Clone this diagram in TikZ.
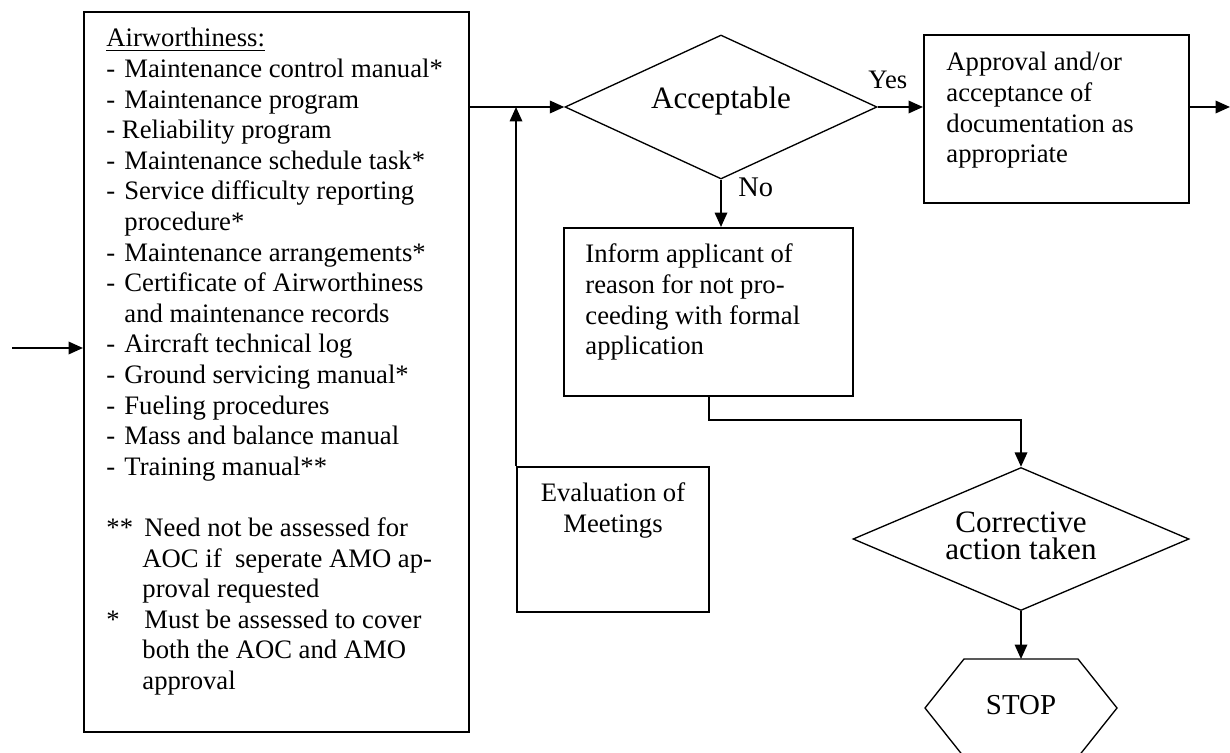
\documentclass[tikz,border=0pt]{standalone}
\usepackage{fontspec}
\setmainfont{Liberation Serif}
\usetikzlibrary{arrows.meta,shapes.geometric,fit}
\newcommand\lidash{\makebox[8.1pt][l]{-}}
\begin{document}
\begin{tikzpicture}[x=0.45pt,y=-0.45pt,
  box/.style={draw, line width=0.9pt, inner sep=0pt},
  dia/.style={draw, diamond, line width=0.6pt, inner sep=0pt},
  arr/.style={line width=0.9pt, -{Triangle[length=6.5pt,width=5.6pt]}},
  f12/.style={font=\fontsize{12}{13.77}\selectfont},
  txt/.style={inner sep=0pt, f12},
]
\useasboundingbox (0,0) rectangle (1230,753);

% boxes
\node[box, fit={(84,12)(469,732)}] (air) {};
\node[box, fit={(924,35)(1189,203)}] (appr) {};
\node[box, fit={(564,228)(853,396)}] (inf) {};
\node[box, fit={(517,467)(709,612)}] (eval) {};
\node[dia, minimum width=140.4pt, minimum height=64.8pt] (acc) at (721,107) {};
\node[dia, minimum width=151.2pt, minimum height=64.35pt] (corr) at (1021,539) {};
\coordinate (stop) at (1021,708);
\coordinate (stoptop) at (1021,659);
\draw[line width=0.6pt] (stop) ++(-57,-49) -- ++(114,0) -- ++(39,49) -- ++(-39,49) -- ++(-114,0) -- ++(-39,-49) -- cycle;

% texts
\node[txt, anchor=base west] (airtext) at (106,47) {\parbox[t]{163pt}{\raggedright
\underline{Airworthiness:}\\
\lidash Maintenance control manual*\\
\lidash Maintenance program\\
- Reliability program\\
\lidash Maintenance schedule task*\\
\lidash Service difficulty reporting\\
\hspace*{8.1pt}procedure*\\
\lidash Maintenance arrangements*\\
\lidash Certificate of Airworthiness\\
\hspace*{8.1pt}and maintenance records\\
\lidash Aircraft technical log\\
\lidash Ground servicing manual*\\
\lidash Fueling procedures\\
\lidash Mass and balance manual\\
\lidash Training manual**\\
\mbox{}\\
\makebox[17.1pt][l]{**}Need not be assessed for\\
\hspace*{16.2pt}AOC if~ seperate AMO ap-\\
\hspace*{16.2pt}proval requested\\
\makebox[17.1pt][l]{*}Must be assessed to cover\\
\hspace*{16.2pt}both the AOC and AMO\\
\hspace*{16.2pt}approval}};

\node[txt, anchor=base west] (apprtext) at (946,71) {\parbox[t]{105pt}{\raggedright
Approval and/or\\acceptance of\\documentation as\\appropriate}};
\node[txt, anchor=base west] (inftext) at (585,263) {\parbox[t]{118pt}{\raggedright
Inform applicant of\\reason for not pro-\\ceeding with formal\\application}};
\node[txt, anchor=base] (evaltext) at (613,502) {\parbox[t]{82pt}{\centering
Evaluation of\\Meetings}};
\node[inner sep=0pt, anchor=base, font=\fontsize{14}{16}\selectfont] (acctext) at (721,109) {Acceptable};
\node[inner sep=0pt, anchor=base, font=\fontsize{14}{12.4}\selectfont] (corrtext) at (1021,532) {\parbox[t]{120pt}{\centering\lineskiplimit=-\maxdimen
Corrective\\action taken}};
\node[inner sep=0pt, anchor=base, font=\fontsize{13}{15}\selectfont] (stoptext) at (1021,714) {STOP};
\node[inner sep=0pt, anchor=base west, font=\fontsize{12}{14}\selectfont] (yes) at (868,89) {Yes};
\node[inner sep=0pt, anchor=base west, font=\fontsize{12.8}{15}\selectfont] (no) at (738,197) {No};

% connectors
\coordinate (in) at (12,348);
\coordinate (out) at (1230,107);
\draw[arr] (in) -- (in -| air.west);
\draw[arr] (air.east |- acc.west) -- (acc.west);
\draw[arr] (eval.north west) -- (eval.north west |- acc.west);
\draw[arr] (acc.east) -- (acc.east -| appr.west);
\draw[arr] (acc.east -| appr.east) -- (out);
\draw[arr] (acc.south) -- (acc.south |- inf.north);
\draw[arr] (inf.south) -- ++(0,23) -| (corr.north);
\draw[arr] (corr.south) -- (stoptop);
\end{tikzpicture}
\end{document}
